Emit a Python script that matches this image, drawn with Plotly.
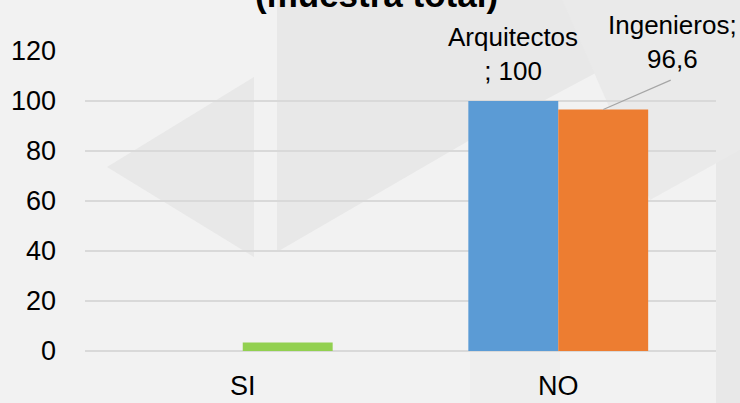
import plotly.graph_objects as go

categories = ["SI", "NO"]
arquitectos = [0, 100]
ingenieros = [3.4, 96.6]
ingenieros_colors = ["#92d050", "#ed7d31"]
y_ticks = [0, 20, 40, 60, 80, 100, 120]
title_text = "(muestra total)"

FONT = "Liberation Sans, Arial, sans-serif"

# plot area in pixels: x 85..716, y 51..351
L, R, T, B = 85, 716, 51, 351
def px(x):
    return (x - L) / (R - L)
def py(y):
    return (B - y) / (B - T)
def poly(points):
    return "M " + " L ".join(f"{px(x):.4f},{py(y):.4f}" for x, y in points) + " Z"

fig = go.Figure()
fig.add_trace(go.Bar(name="Arquitectos", x=categories, y=arquitectos,
                     marker=dict(color="#5b9bd5", line=dict(width=0))))
fig.add_trace(go.Bar(name="Ingenieros", x=categories, y=ingenieros,
                     marker=dict(color=ingenieros_colors, line=dict(width=0))))

# faint watermark shapes (background)
wm = "#e8e8e8"
shapes = []
for pts, col in [
    ([(740, 0), (740, 403), (716, 403), (716, 0)], "#e8e8e8"),
    ([(277, -5), (277, 252), (470, 140), (620, 60), (620, -5)], wm),
    ([(107, 167), (254, 77), (254, 257)], wm),
    ([(560, -5), (740, -5), (740, 150), (650, 200)], "#eaeaea"),
    ([(470, 250), (560, 300), (560, 403), (470, 403)], "#eeeeee"),
]:
    shapes.append(dict(type="path", path=poly(pts), xref="paper", yref="paper",
                       fillcolor=col, line=dict(width=0), layer="below"))

annotations = [
    dict(text=title_text, xref="paper", yref="paper", x=px(376), y=py(16),
         xanchor="center", yanchor="bottom", showarrow=False,
         font=dict(family=FONT, size=35, color="#000000", weight="bold")),
    dict(text=f"Arquitectos<br>; {arquitectos[1]}", x="NO", y=arquitectos[1],
         xref="x", yref="y", xshift=-45, yshift=13, xanchor="center", yanchor="bottom",
         showarrow=False, font=dict(family=FONT, size=26, color="#000000")),
    dict(text=f"Ingenieros;<br>{str(ingenieros[1]).replace('.', ',')}", x="NO", y=ingenieros[1],
         xref="x", yref="y", xshift=45 + 69, yshift=34, xanchor="center", yanchor="bottom",
         showarrow=False, font=dict(family=FONT, size=26, color="#000000")),
    dict(text=" ", x="NO", y=ingenieros[1], xref="x", yref="y", xshift=45,
         showarrow=True, ax=69, ay=-30, arrowhead=0, arrowwidth=1.2, arrowcolor="#a6a6a6",
         font=dict(size=1)),
]

fig.update_layout(
    width=740, height=403,
    margin=dict(l=L, r=740 - R, t=T, b=403 - B, autoexpand=False),
    paper_bgcolor="#f2f2f2", plot_bgcolor="rgba(0,0,0,0)",
    barmode="group", bargap=0.43, bargroupgap=0,
    showlegend=False,
    font=dict(family=FONT, color="#000000"),
    shapes=shapes, annotations=annotations,
)
fig.update_xaxes(range=[-0.5, len(categories) - 0.5], showgrid=False, showline=False,
                 ticks="", tickfont=dict(size=27), ticklabelstandoff=16, automargin=False)
fig.update_yaxes(range=[0, 120], tickvals=y_ticks, showgrid=True, gridcolor="#d9d9d9",
                 gridwidth=1.5, zeroline=True, zerolinecolor="#d9d9d9", zerolinewidth=1.5,
                 showline=False, ticks="", tickfont=dict(size=27), ticklabelstandoff=28,
                 automargin=False)

fig.write_html("out.html", config={"displayModeBar": False},
               post_script="document.body.style.margin='0';document.body.style.overflow='hidden';document.body.style.background='#f2f2f2';")
